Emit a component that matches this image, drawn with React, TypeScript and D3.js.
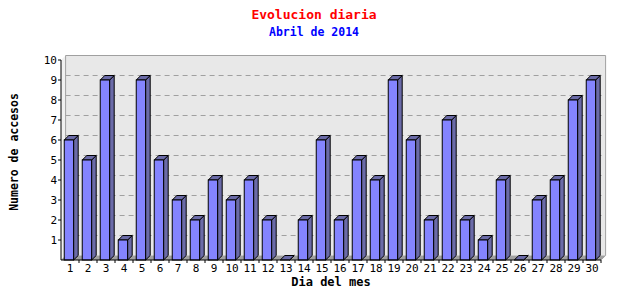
import React from "react";
import * as d3 from "d3";

const days = Array.from({ length: 30 }, (_, i) => String(i + 1));
const visits = [6, 5, 9, 1, 9, 5, 3, 2, 4, 3, 4, 2, 0, 2, 6, 2, 5, 4, 9, 6, 2, 7, 2, 1, 4, 0, 3, 4, 8, 9];
const yTicks = [1, 2, 3, 4, 5, 6, 7, 8, 9, 10];

const W = 640, H = 300;
const left = 61, right = 601, top = 60, bottom = 260;
const DX = 4.6, DY = 4.5;
const mono = "'DejaVu Sans Mono', monospace";

export default function App() {
  const x = d3.scaleBand<string>().domain(days).range([left, right]).padding(0);
  const y = d3.scaleLinear().domain([0, 10]).range([bottom, top]);
  const bw = x.bandwidth();
  const fw = bw * 0.52;
  const off = bw * 0.18;

  return (
    <svg width={W} height={H} style={{ position: "absolute", left: 0, top: 0, background: "#fff" }}>
      <text x={314} y={19} textAnchor="middle" fill="#ff0000" fontFamily={mono} fontWeight="bold" fontSize={13}>Evolucion diaria</text>
      <text x={314} y={36} textAnchor="middle" fill="#0000ff" fontFamily={mono} fontWeight="bold" fontSize={11.5}>Abril de 2014</text>

      {/* side wall */}
      <polygon points={`${left},${top} ${left + DX},${top - DY} ${left + DX},${bottom - DY} ${left},${bottom}`} fill="#f0f0f0" />
      {/* back wall */}
      <rect x={left + DX} y={top - DY} width={right - left} height={bottom - top} fill="#e8e8e8" />
      <polyline points={`${left + DX},${bottom - DY} ${left + DX},${top - DY} ${right + DX},${top - DY} ${right + DX},${bottom - DY} ${right},${bottom}`} fill="none" stroke="#a0a0a0" strokeWidth={1} />
      {/* grid */}
      {yTicks.filter(t => t < 10).map(t => (
        <line key={t} x1={left + DX} x2={right + DX} y1={y(t) - DY} y2={y(t) - DY} stroke="#a0a0a0" strokeDasharray="5,4" />
      ))}
      {/* floor */}
      <polygon points={`${left},${bottom} ${left + DX},${bottom - DY} ${right + DX},${bottom - DY} ${right},${bottom}`} fill="#a0a0a0" />

      {/* bars */}
      {visits.map((v, i) => {
        const x0 = (x(days[i]) as number) + off;
        const x1 = x0 + fw;
        const yt = y(v);
        return (
          <g key={i} stroke="#000" strokeWidth={1} strokeLinejoin="miter">
            <polygon points={`${x1},${yt} ${x1 + DX},${yt - DY} ${x1 + DX},${bottom - DY} ${x1},${bottom}`} fill="#6b6ba8" />
            <polygon points={`${x0},${yt} ${x0 + DX},${yt - DY} ${x1 + DX},${yt - DY} ${x1},${yt}`} fill="#6b6ba8" />
            {v > 0 && <rect x={x0} y={yt} width={fw} height={bottom - yt} fill="#8484ff" />}
          </g>
        );
      })}

      {/* axes */}
      <line x1={left} x2={left} y1={top} y2={bottom} stroke="#000" />
      <line x1={left} x2={right} y1={bottom} y2={bottom} stroke="#000" />
      {yTicks.map(t => (
        <g key={t}>
          <line x1={left - 3} x2={left} y1={y(t)} y2={y(t)} stroke="#000" />
          <text x={left - 4} y={y(t) + 4} textAnchor="end" fontFamily={mono} fontSize={11} fill="#000">{t}</text>
        </g>
      ))}
      {days.map((d, i) => (
        <g key={d}>
          <line x1={(x(d) as number) + bw} x2={(x(d) as number) + bw} y1={bottom} y2={bottom + 3} stroke="#000" />
          <text x={(x(d) as number) + bw / 2} y={272} textAnchor="middle" fontFamily={mono} fontSize={11} fill="#000">{d}</text>
        </g>
      ))}
      <text x={331} y={286} textAnchor="middle" fontFamily={mono} fontWeight="bold" fontSize={12}>Dia del mes</text>
      <text transform="translate(18,152) rotate(-90)" textAnchor="middle" fontFamily={mono} fontWeight="bold" fontSize={11.5}>Numero de accesos</text>
    </svg>
  );
}
